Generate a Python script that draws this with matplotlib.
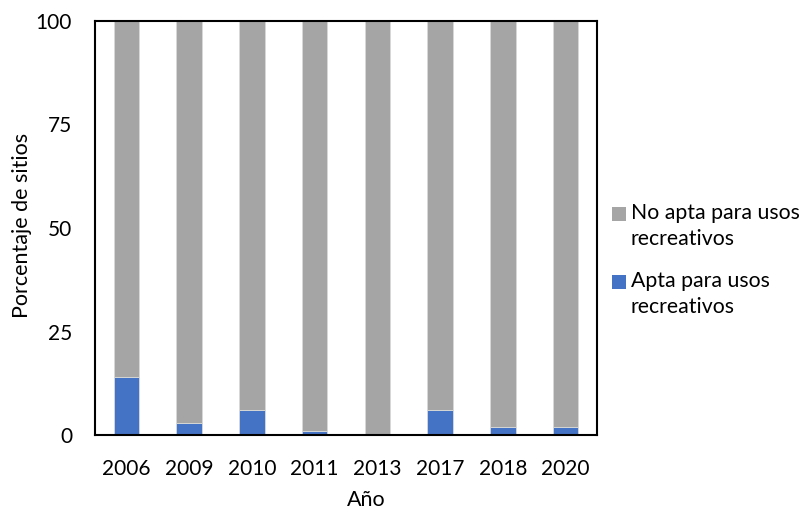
import matplotlib
matplotlib.use("Agg")
import matplotlib.pyplot as plt
from matplotlib.patches import Rectangle

plt.rcParams['font.family'] = ['Lato', 'DejaVu Sans']

years = ["2006", "2009", "2010", "2011", "2013", "2017", "2018", "2020"]
apta = [14, 3, 6, 1, 0, 6, 2, 2]
no_apta = [100 - v for v in apta]
series_names = ["No apta para usos\nrecreativos", "Apta para usos\nrecreativos"]

blue = "#4472C4"
gray = "#A5A5A5"

W, H = 807, 512
fig = plt.figure(figsize=(W / 100, H / 100), dpi=100)
ax = fig.add_axes([95 / W, 1 - 435 / H, (597 - 95) / W, (435 - 21) / H])

x = range(len(years))
ax.bar(x, apta, width=0.41, color=blue, edgecolor="#d9d9d9", linewidth=0.6)
ax.bar(x, no_apta, bottom=apta, width=0.41, color=gray, edgecolor="#d9d9d9", linewidth=0.6)

ax.set_xlim(-0.5, len(years) - 0.5)
ax.set_ylim(0, 100)
ax.set_yticks([0, 25, 50, 75, 100])
ax.set_xticks(list(x))
ax.set_xticklabels(years)
ax.tick_params(axis="both", length=0, labelsize=15, colors="black")
ax.tick_params(axis="x", pad=17.5)
ax.tick_params(axis="y", pad=16.5)
for s in ax.spines.values():
    s.set_linewidth(1.5)
    s.set_color("black")

ax.set_xlabel("Año", fontsize=15.5)
ax.xaxis.set_label_coords((366 - 95) / 502, (435 - 490) / 414)
ax.set_ylabel("Porcentaje de sitios", fontsize=15.5)
ax.yaxis.set_label_coords((32 - 95) / 502, (435 - 225) / 414)

# legend: square swatch aligned with the first line of each two-line label
legend_items = [(series_names[0], gray, 207), (series_names[1], blue, 275)]
for label, color, ytop in legend_items:
    fig.patches.append(Rectangle((612 / W, 1 - (ytop + 14) / H), 14 / W, 14 / H,
                                 transform=fig.transFigure, facecolor=color,
                                 edgecolor="none"))
    fig.text(631 / W, 1 - (ytop - 4) / H, label, fontsize=15.3, va="top",
             ha="left", linespacing=1.4)

fig.savefig("out.png", dpi=100)
